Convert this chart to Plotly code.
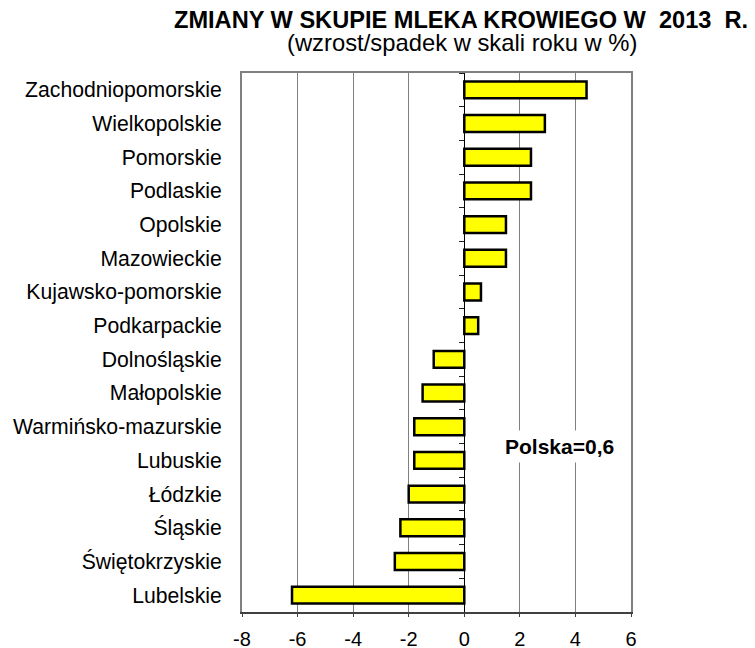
import plotly.graph_objects as go

regions = ["Zachodniopomorskie", "Wielkopolskie", "Pomorskie", "Podlaskie", "Opolskie",
           "Mazowieckie", "Kujawsko-pomorskie", "Podkarpackie", "Dolnośląskie", "Małopolskie",
           "Warmińsko-mazurskie", "Lubuskie", "Łódzkie", "Śląskie", "Świętokrzyskie", "Lubelskie"]
changes = [4.4, 2.9, 2.4, 2.4, 1.5, 1.5, 0.6, 0.5, -1.1, -1.5, -1.8, -1.8, -2.0, -2.3, -2.5, -6.2]
x_ticks = [-8, -6, -4, -2, 0, 2, 4, 6]
title_text = "ZMIANY W SKUPIE MLEKA KROWIEGO W  2013  R."
subtitle_text = "(wzrost/spadek w skali roku w %)"
poland_text = "Polska=0,6"

FONT = "Arial, 'Liberation Sans', sans-serif"
X_MIN, X_MAX = -8, 6
Y_RANGE = [len(regions) - 0.5, -0.5]

fig = go.Figure()
fig.add_trace(go.Bar(
    x=changes, y=regions, orientation="h",
    marker=dict(color="#FFFF00", line=dict(color="#000000", width=2.5)),
    width=0.5, hoverinfo="x+y", showlegend=False,
))
# invisible trace carrying the top frame axis and the zero-line axis with boundary ticks
fig.add_trace(go.Scatter(
    x=[0] * len(regions), y=regions, xaxis="x2", yaxis="y2", mode="markers",
    marker=dict(opacity=0), hoverinfo="skip", showlegend=False,
))

fig.update_layout(
    width=755, height=648,
    margin=dict(l=234, r=132, t=65, b=44),
    paper_bgcolor="white", plot_bgcolor="white",
    font=dict(family=FONT, size=21, color="#000000"),
    xaxis=dict(
        range=[X_MIN, X_MAX], tickvals=x_ticks, ticktext=[str(v) for v in x_ticks],
        showgrid=True, gridcolor="#808080", gridwidth=1,
        zeroline=False, automargin=False,
        showline=True, linecolor="#404040", linewidth=2,
        ticks="outside", ticklen=3, tickcolor="#404040", tickwidth=1,
        ticklabelstandoff=5,
        tickfont=dict(size=20),
    ),
    xaxis2=dict(
        range=[X_MIN, X_MAX], overlaying="x", side="top", anchor="y2",
        showline=True, linecolor="#808080", linewidth=2,
        ticks="", showticklabels=False, showgrid=False, zeroline=False,
        automargin=False,
    ),
    yaxis=dict(
        categoryorder="array", categoryarray=regions,
        range=Y_RANGE, automargin=False,
        showgrid=False, zeroline=False,
        showline=True, linecolor="#808080", linewidth=2, mirror=True,
        ticks="outside", ticklen=14, tickcolor="rgba(0,0,0,0)",
        tickfont=dict(size=21.2),
    ),
    yaxis2=dict(
        categoryorder="array", categoryarray=regions,
        range=Y_RANGE, overlaying="y", anchor="free",
        position=(0 - X_MIN) / (X_MAX - X_MIN),
        showline=True, linecolor="#000000", linewidth=1,
        ticks="outside", ticklen=5, tickcolor="#202020", tickson="boundaries",
        showticklabels=False, showgrid=False, zeroline=False, automargin=False,
    ),
    annotations=[
        dict(text="<b>" + title_text + "</b>", xref="paper", yref="paper",
             x=0.5633, y=1.099, xanchor="center", yanchor="middle", showarrow=False,
             font=dict(size=23.6, family=FONT)),
        dict(text=subtitle_text, xref="paper", yref="paper",
             x=0.566, y=1.056, xanchor="center", yanchor="middle", showarrow=False,
             font=dict(size=23.8, family=FONT)),
        dict(text="<b>" + poland_text + "</b>", xref="x", yref="paper",
             x=3.44, y=0.3076, xanchor="center", yanchor="middle", showarrow=False,
             bgcolor="white", borderpad=4, font=dict(size=21, family=FONT)),
    ],
)

fig.write_html("out.html")
